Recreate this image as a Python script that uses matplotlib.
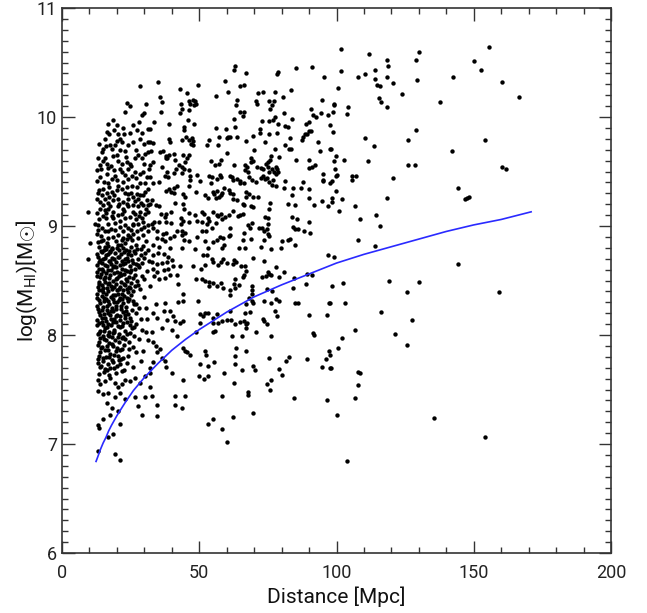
import matplotlib
matplotlib.use("Agg")
import matplotlib.pyplot as plt
from matplotlib.ticker import MultipleLocator

# ---- data (Distance [Mpc], log M_HI) ----
edge_points = [
    (101.6,10.62),(111.8,10.58),(130.1,10.60),(129.1,10.52),(118.4,10.52),(118.9,10.47),(155.7,10.64),
    (150.1,10.51),(152.6,10.43),(101.8,10.42),(107.7,10.37),(110.4,10.39),(114.0,10.43),(113.9,10.35),
    (118.5,10.37),(120.7,10.31),(114.6,10.29),(115.8,10.28),(129.2,10.34),(142.4,10.37),(160.3,10.32),
    (100.5,10.27),(123.9,10.21),(115.6,10.17),(116.2,10.14),(118.5,10.09),(166.6,10.18),(137.6,10.14),
    (99.0,10.12),(99.1,10.11),(104.1,10.09),(98.6,10.05),(103.8,10.03),(97.6,9.93),(98.8,9.86),
    (129.0,9.88),(125.9,9.79),(110.5,9.81),(113.7,9.73),(154.2,9.79),(142.1,9.69),(97.9,9.71),
    (99.8,9.64),(99.0,9.60),(102.7,9.61),(111.4,9.60),(126.0,9.56),(128.5,9.56),(160.4,9.54),
    (161.7,9.52),(99.6,9.52),(100.1,9.47),(99.7,9.46),(105.8,9.46),(107.2,9.46),(105.6,9.42),
    (98.2,9.41),(97.6,9.39),(120.5,9.44),(99.8,9.32),(144.1,9.35),(146.8,9.25),(147.4,9.26),
    (148.4,9.27),(98.2,9.26),(98.2,9.22),(101.9,9.25),(118.5,9.26),(100.9,9.14),(106.7,9.18),
    (114.3,9.10),(108.5,9.06),(116.0,9.00),(107.9,8.87),(113.9,8.82),
    (99.1,8.72),(144.3,8.65),(98.4,8.45),(102.3,8.48),(119.2,8.50),(129.9,8.49),(125.8,8.39),
    (159.2,8.39),(97.6,8.29),(103.0,8.29),(116.2,8.21),(127.6,8.14),(106.7,8.05),(121.3,8.01),
    (101.9,7.97),(100.5,7.88),(125.6,7.91),(97.6,7.82),(97.9,7.70),(107.8,7.66),(108.7,7.65),
    (107.9,7.54),(106.8,7.42),(100.3,7.27),(135.5,7.24),(154.2,7.06),(103.9,6.84),
]

far_points = [
    (63.0,10.47),(62.5,10.43),(66.9,10.40),(78.6,10.41),(78.3,10.39),(85.4,10.45),(91.1,10.46),
    (95.4,10.37),(64.8,10.28),(66.4,10.29),(83.5,10.25),(71.4,10.22),(73.1,10.23),(77.5,10.23),
    (63.6,10.16),(63.5,10.11),(70.6,10.15),(70.9,10.12),(75.3,10.15),(77.1,10.15),(76.5,10.11),
    (80.6,10.18),(94.8,10.16),(75.7,10.07),(64.7,10.05),(66.4,10.05),(65.8,10.01),(80.9,10.04),
    (90.6,10.07),(91.3,10.02),(92.5,10.00),(94.5,10.04),(97.0,10.02),(77.5,10.00),(77.0,9.97),
    (62.5,9.98),(83.8,9.98),(73.0,9.96),(75.5,9.96),(78.6,9.94),(63.1,9.91),(81.3,9.92),(82.4,9.91),
    (89.0,9.94),(89.9,9.95),(90.8,9.87),(72.0,9.89),(72.0,9.85),(63.9,9.82),(61.2,9.82),(67.0,9.78),
    (69.6,9.83),(75.4,9.84),(78.3,9.85),(74.1,9.77),(83.1,9.81),(87.3,9.79),(87.9,9.82),(88.6,9.84),
    (89.4,9.84),(90.1,9.87),(93.3,9.77),(97.5,9.71),(77.6,9.71),(81.1,9.74),(82.8,9.71),(83.3,9.71),
    (70.1,9.70),(94.0,9.69),(69.0,9.62),(69.7,9.60),(68.7,9.59),(76.2,9.64),(75.8,9.61),(74.9,9.59),
    (74.4,9.57),(79.2,9.63),(85.4,9.61),(90.1,9.61),(90.0,9.53),(91.0,9.54),(92.0,9.56),(95.1,9.48),
    (95.0,9.42),(62.5,9.56),(66.6,9.56),(67.4,9.54),(66.8,9.51),(67.9,9.50),(68.2,9.45),(70.9,9.54),
    (72.5,9.53),(73.3,9.52),(75.0,9.54),(76.4,9.52),(78.0,9.54),(78.3,9.52),(75.4,9.50),(77.1,9.50),
    (77.8,9.48),(78.6,9.50),(61.2,9.46),(61.9,9.45),(62.4,9.42),(63.6,9.43),(64.8,9.41),(65.0,9.39),
    (66.3,9.39),(69.3,9.42),(70.6,9.40),(72.5,9.44),(73.3,9.46),(74.0,9.43),(74.8,9.44),(75.3,9.40),
    (77.0,9.42),(76.4,9.38),(77.8,9.37),(81.1,9.41),(80.9,9.35),(84.0,9.35),(87.1,9.35),(87.7,9.40),
    (90.0,9.34),(95.2,9.41),(61.2,9.30),(62.4,9.29),(62.3,9.25),(66.9,9.31),(67.1,9.27),(68.1,9.29),
    (71.3,9.27),(69.7,9.27),(83.8,9.28),(90.0,9.26),(94.7,9.23),(91.8,9.19),(97.0,9.18),(63.6,9.24),
    (65.8,9.20),(66.3,9.19),(68.7,9.18),(69.5,9.17),(75.7,9.21),(75.4,9.16),(82.3,9.20),(85.0,9.19),
    (62.3,9.14),(64.0,9.09),(65.0,9.10),(66.0,9.11),(74.0,9.08),(75.2,9.07),(75.0,9.02),(83.7,9.08),
    (85.7,9.06),(89.9,9.04),(67.6,9.01),(69.2,9.03),(68.6,8.98),(71.7,8.98),(73.0,8.98),(73.6,8.95),
    (74.8,8.97),(75.2,8.93),(75.5,8.91),(73.7,8.87),(84.0,8.99),(84.8,8.97),(86.1,8.97),(88.3,8.95),
    (90.3,8.94),(61.2,8.98),(61.2,8.92),(66.3,8.94),(66.0,8.87),(68.9,8.88),(66.7,8.80),(76.2,8.79),
    (80.0,8.86),(82.3,8.87),(83.1,8.88),(85.0,8.83),(72.4,8.81),
    (64.5,8.80),(69.6,8.71),(79.7,8.80),(62.7,8.69),(63.4,8.67),(62.4,8.65),(65.2,8.63),(66.8,8.63),
    (73.5,8.68),(78.1,8.62),(80.8,8.58),(67.1,8.59),(66.4,8.55),(74.9,8.58),(75.5,8.56),(72.7,8.53),
    (74.3,8.54),(76.0,8.55),(79.1,8.53),(66.0,8.53),(62.9,8.51),(64.6,8.46),(84.4,8.52),(89.1,8.56),
    (91.2,8.55),(89.0,8.47),(96.8,8.73),(69.1,8.45),(69.3,8.41),(69.2,8.38),(62.8,8.47),(63.0,8.43),
    (61.2,8.41),(61.2,8.37),(74.8,8.42),(76.5,8.40),(84.2,8.43),(68.2,8.34),(69.1,8.31),(69.6,8.29),
    (73.6,8.31),(76.2,8.29),(77.8,8.33),(79.2,8.31),(66.9,8.28),(84.9,8.29),(86.1,8.29),(97.4,8.29),
    (61.2,8.22),(66.6,8.20),(68.4,8.21),(77.7,8.22),(78.3,8.17),(89.9,8.18),(96.4,8.18),(61.5,8.14),
    (62.9,8.10),(65.0,8.12),(66.3,8.13),(67.0,8.10),(67.4,8.11),(73.1,8.15),(73.7,8.13),(74.7,8.10),
    (66.9,8.06),(70.8,8.03),(61.9,7.99),(65.5,7.99),(76.2,7.99),(91.6,8.02),(91.9,8.00),(63.3,7.88),
    (66.9,7.85),(63.1,7.81),(63.0,7.73),(75.3,7.79),(82.6,7.80),(81.6,7.76),(89.4,7.78),(97.3,7.85),
    (96.2,7.78),(94.8,7.71),(97.5,7.70),(69.5,7.72),(70.3,7.68),(65.6,7.68),(79.2,7.69),(80.3,7.63),
    (76.0,7.59),(74.8,7.55),(62.7,7.56),(67.9,7.48),(67.6,7.45),(75.8,7.50),(84.6,7.42),(96.4,7.40),
    (69.6,7.28),(62.2,7.25),
]

mid_points = [
    (35.1,10.32),(42.9,10.26),(45.5,10.22),(49.7,10.29),(59.4,10.33),(60.4,10.23),(56.1,10.19),
    (35.6,10.18),(36.3,10.14),(36.0,10.05),(43.4,10.12),(43.1,10.04),(43.7,10.07),(46.3,10.15),
    (47.6,10.16),(46.6,10.12),(48.0,10.11),(48.7,10.12),(48.5,10.15),(46.4,10.06),(33.5,9.95),
    (32.1,9.89),(39.1,9.94),(45.8,9.97),(48.0,9.94),(44.3,9.91),(44.3,9.88),(56.1,9.90),(59.9,9.89),
    (32.1,9.77),(33.3,9.76),(39.1,9.80),(39.3,9.77),(43.8,9.79),(45.3,9.82),(46.3,9.79),(47.2,9.81),
    (47.6,9.78),(46.9,9.75),(47.7,9.74),(53.6,9.79),(52.7,9.74),(57.2,9.82),(60.0,9.81),(60.6,9.82),
    (56.9,9.74),(32.5,9.69),(35.8,9.68),(36.7,9.69),(37.8,9.64),(38.4,9.62),(38.9,9.65),(37.8,9.62),
    (40.8,9.66),(41.1,9.61),(44.2,9.65),(46.3,9.65),(45.4,9.62),(44.7,9.59),(60.1,9.67),(54.3,9.60),
    (55.7,9.56),(57.3,9.57),(57.9,9.61),(33.0,9.59),(32.1,9.56),(36.5,9.54),(38.1,9.50),(37.5,9.46),
    (38.7,9.45),(40.8,9.49),(41.4,9.52),(42.5,9.56),(43.8,9.54),(44.4,9.52),(43.7,9.49),(46.3,9.51),
    (46.7,9.46),(49.3,9.47),(50.3,9.41),(46.5,9.42),(46.4,9.37),(53.6,9.46),(54.6,9.45),(54.4,9.39),
    (56.4,9.43),(57.6,9.47),(58.0,9.45),(32.1,9.45),(33.3,9.39),(35.3,9.40),(37.8,9.32),(38.9,9.34),
    (39.7,9.31),(40.9,9.35),(40.8,9.30),(41.8,9.37),(44.2,9.29),(44.8,9.27),(48.7,9.31),(52.2,9.28),
    (53.3,9.26),(54.9,9.31),(55.5,9.29),(56.4,9.32),(56.0,9.26),(57.2,9.27),(57.9,9.28),(58.3,9.30),
    (59.0,9.35),(60.7,9.33),(32.7,9.24),(32.1,9.20),(34.2,9.19),(35.4,9.18),(36.0,9.11),(37.9,9.11),
    (39.8,9.13),(41.2,9.21),(44.2,9.20),(44.6,9.16),(46.4,9.12),(48.5,9.10),(51.1,9.13),(51.7,9.11),
    (53.3,9.07),(55.1,9.13),(56.4,9.10),(57.0,9.09),(58.0,9.11),(58.2,9.06),(59.5,9.08),(60.8,9.10),
    (33.5,9.04),(32.7,9.02),(33.3,8.98),(35.3,9.04),(37.5,9.08),(38.0,9.04),(39.7,9.03),(43.2,9.07),
    (43.4,9.02),(44.2,9.05),(46.3,9.04),(49.1,9.05),(50.9,9.04),(52.7,9.02),(53.6,9.05),(54.6,8.98),
    (56.1,9.03),(34.7,8.95),(36.9,8.93),(37.8,8.94),(34.5,8.89),(36.3,8.88),(37.4,8.86),(39.3,8.89),
    (40.8,8.91),(41.8,8.95),(43.8,8.95),(44.9,8.94),(43.6,8.92),(44.6,8.87),(46.4,8.86),(49.1,8.90),
    (50.9,8.95),(52.5,8.95),(52.1,8.86),(55.1,8.85),(56.4,8.87),(57.6,8.90),(58.5,8.89),(59.1,8.83),
    (60.7,8.91),(33.3,8.83),(35.4,8.81),(39.3,8.80),(43.6,8.80),(48.4,8.79),(53.3,8.80),(58.2,8.80),
    (33.3,8.73),(35.1,8.75),(37.2,8.74),(38.7,8.72),(32.7,8.67),(34.5,8.65),(36.3,8.66),(38.1,8.67),
    (40.0,8.69),(33.0,8.61),(34.7,8.58),(37.0,8.60),(38.7,8.61),(40.6,8.63),(33.5,8.54),(35.4,8.51),
    (37.5,8.52),(39.3,8.55),(41.8,8.55),(43.0,8.63),(47.6,8.63),(50.6,8.61),(52.1,8.64),(51.3,8.73),
    (52.9,8.73),(54.5,8.70),(55.1,8.67),(56.9,8.64),(57.8,8.67),(58.8,8.70),(60.0,8.66),
    (42.4,8.47),(44.0,8.38),(44.2,8.31),(42.4,8.30),(37.5,8.29),(37.0,8.22),(39.3,8.22),(34.2,8.28),
    (33.0,8.20),(34.5,8.16),(38.1,8.14),(40.6,8.17),(41.2,8.13),(43.0,8.11),(44.2,8.13),(36.3,8.06),
    (32.7,8.03),(40.0,8.05),(41.8,7.99),(48.8,8.51),(50.9,8.51),(52.1,8.50),(53.7,8.49),(53.7,8.45),
    (55.1,8.48),(56.4,8.45),(57.8,8.48),(58.8,8.43),(49.7,8.31),(52.1,8.20),(53.3,8.20),(50.3,8.19),
    (51.5,8.17),(55.1,8.16),(56.4,8.19),(55.1,8.11),(56.9,8.11),(58.2,8.13),(60.0,8.14),(48.8,8.03),
    (50.3,8.11),(55.7,8.04),(55.1,8.03),
    (33.0,7.94),(34.2,7.90),(35.7,7.87),(34.5,7.84),(36.3,7.79),(37.5,7.76),(44.2,7.88),(44.8,7.85),
    (45.7,7.84),(46.6,7.82),(52.1,7.85),(52.5,7.82),(50.3,7.73),(53.3,7.72),(55.5,7.75),(32.1,7.70),
    (33.3,7.75),(37.9,7.71),(40.0,7.65),(44.2,7.59),(50.0,7.62),(51.7,7.60),(53.3,7.62),(59.0,7.65),
    (32.1,7.52),(32.7,7.44),(41.2,7.44),(44.8,7.44),(58.2,7.44),(34.7,7.36),(41.2,7.36),(43.6,7.33),
    (34.5,7.26),(54.9,7.23),(53.3,7.18),(58.2,7.14),(60.0,7.02),
]

near_points = [
    (28.4,10.28),(23.8,10.13),(24.9,10.10),(23.0,10.05),(30.5,10.12),(29.9,10.04),(29.1,10.02),
    (16.9,9.94),(18.7,9.97),(16.4,9.86),(20.5,9.84),(22.7,9.84),(24.8,9.85),(27.2,9.88),(31.4,9.89),
    (17.5,9.74),(18.1,9.71),(19.9,9.78),(21.1,9.80),(21.7,9.77),(19.3,9.74),(23.0,9.69),(26.0,9.77),
    (28.4,9.80),(30.0,9.75),(31.4,9.77),(14.5,9.68),(13.2,9.62),(15.0,9.60),(16.3,9.57),(13.8,9.56),
    (16.9,9.53),(19.9,9.65),(20.5,9.60),(21.7,9.57),(23.6,9.59),(24.8,9.57),(26.6,9.62),(27.8,9.65),
    (29.0,9.62),(30.2,9.66),(31.4,9.68),(21.1,9.52),(21.7,9.50),(24.2,9.52),(26.6,9.50),(28.4,9.48),
    (29.6,9.50),(30.9,9.45),(16.3,9.48),(18.1,9.43),(24.2,9.43),(22.3,9.40),(20.5,9.37),(16.9,9.39),
    (15.0,9.34),(16.3,9.30),(18.1,9.31),(19.9,9.33),(21.7,9.34),(23.6,9.36),(25.4,9.37),(27.2,9.36),
    (28.4,9.39),(30.2,9.39),(31.4,9.34),(9.4,9.13),
    (14.5,9.28),(15.7,9.25),(13.8,9.22),(15.0,9.19),(16.9,9.21),(18.7,9.24),(20.5,9.25),(22.3,9.22),
    (24.2,9.25),(26.0,9.27),(27.8,9.25),(29.6,9.28),(30.9,9.24),(12.0,9.02),(13.2,9.01),(14.5,8.98),
    (15.7,8.95),(16.9,9.02),(18.7,9.07),(20.5,9.10),(21.7,9.11),(23.0,9.07),(24.8,9.08),(26.6,9.11),
    (28.4,9.13),(30.2,9.11),(31.4,9.13),(16.9,9.16),(18.7,9.13),(20.5,9.18),(22.3,9.16),(24.2,9.18),
    (26.0,9.19),(27.8,9.18),(29.6,9.19),(31.4,9.19),(10.2,8.84),(15.0,8.87),(16.9,8.89),(18.7,8.90),
    (20.5,8.92),(22.3,8.95),(24.2,8.98),(26.0,9.01),(27.8,9.02),(29.6,9.04),(31.4,9.01),(15.7,8.81),
    (18.1,8.80),(20.5,8.83),(23.0,8.84),(25.4,8.87),(27.8,8.89),(29.6,8.92),(31.4,8.95),(22.3,8.89),
    (24.2,8.92),(26.0,8.93),(9.6,8.70),
    (14.1,9.52),(17.8,9.55),(25.6,9.46),(12.9,9.41),(19.2,9.46),(27.5,9.29),(13.6,9.33),(17.2,9.36),
    (23.0,9.30),(30.1,9.31),(12.6,9.12),(14.9,9.09),(19.4,9.03),(22.7,9.14),(25.7,9.02),(29.0,9.07),
    (13.4,9.06),(16.2,9.12),(20.9,9.20),(27.1,9.06),(12.8,8.93),(17.9,8.97),(21.2,8.99),(25.1,8.96),
    (28.9,8.97),(14.2,8.91),(19.6,8.86),(23.7,8.88),(26.9,8.83),(30.6,8.86),(13.1,8.85),(16.3,8.84),
    (21.9,8.87),(17.0,9.27),(23.9,9.29),(28.7,9.21),(15.5,9.15),(25.8,9.13),
    (13.2,7.59),(13.8,7.55),(15.7,7.58),(17.5,7.61),(19.3,7.56),(20.5,7.52),(21.7,7.55),(23.0,7.59),
    (24.8,7.58),(26.6,7.61),(28.4,7.56),(30.2,7.62),(32.1,7.65),(13.2,7.49),(15.0,7.46),(16.9,7.47),
    (19.3,7.43),(21.1,7.47),(23.0,7.41),(26.6,7.43),(30.2,7.43),(16.3,7.38),(18.1,7.33),(17.5,7.27),
    (27.8,7.35),(29.0,7.27),(20.5,7.30),(15.0,7.23),(13.2,7.17),(13.5,7.15),(21.1,7.18),(18.7,7.09),
    (16.9,7.06),(13.2,6.94),(19.3,6.91),(21.1,6.85),
]

upper_near_points = [
    (13.4,9.75),(15.8,9.80),(22.3,9.90),(25.7,9.93),(28.0,9.95),(19.0,9.88),(14.9,9.71),(26.9,9.70),
    (24.1,9.74),(29.3,9.85),(13.9,9.45),(15.4,9.40),(18.8,9.51),(20.1,9.42),(22.9,9.47),(25.0,9.55),
    (27.0,9.44),(29.8,9.57),(31.8,9.52),(23.4,9.63),(13.1,9.30),(14.0,9.16),(16.0,9.07),(17.6,9.18),
    (19.0,9.28),(21.0,9.05),(23.5,9.20),(25.3,9.30),(26.6,9.23),(28.5,9.28),(30.7,9.16),(12.7,9.25),
    (14.3,8.86),(16.8,8.95),(19.3,8.96),(22.8,9.01),(24.9,8.90),(27.3,8.95),(30.0,8.99),(13.2,8.96),
    (18.2,9.09),(28.0,9.09),(15.6,9.62),(18.5,9.64),(12.9,9.51),(21.3,9.70),(17.0,9.84),(20.0,9.93),
    (16.2,9.73),
]

dense_points = [
    (13.5,8.81),(15.2,8.78),(16.8,8.82),(18.1,8.79),(19.9,8.80),(21.4,8.83),(23.2,8.78),(25.0,8.81),(27.3,8.79),(29.5,8.82),(31.2,8.78),
    (12.9,8.74),(14.4,8.76),(16.0,8.73),(17.6,8.77),(19.2,8.75),(20.7,8.72),(22.5,8.76),(24.1,8.74),(26.2,8.77),(28.6,8.73),(30.4,8.75),
    (13.8,8.69),(15.5,8.71),(17.2,8.68),(18.9,8.70),(20.3,8.72),(22.0,8.68),(23.7,8.71),(25.6,8.69),(27.8,8.70),(31.7,8.68),
    (12.7,8.64),(14.6,8.66),(16.3,8.63),(18.0,8.65),(19.6,8.67),(21.2,8.64),(23.0,8.66),(24.8,8.63),(26.9,8.65),(29.2,8.66),
    (13.3,8.61),(15.0,8.59),(16.9,8.60),(18.6,8.62),(20.1,8.58),(21.9,8.61),(23.6,8.59),(25.3,8.60),(28.0,8.62),(30.8,8.59),
    (12.8,8.54),(14.2,8.56),(15.8,8.53),(17.4,8.55),(19.0,8.57),(20.8,8.54),(22.6,8.56),(24.4,8.53),(26.5,8.55),
    (13.6,8.49),(15.3,8.51),(17.0,8.48),(18.5,8.50),(20.0,8.52),(21.6,8.49),(23.3,8.51),(25.2,8.48),(27.4,8.50),(30.0,8.51),
    (13.0,8.44),(14.7,8.46),(16.4,8.43),(17.9,8.45),(19.5,8.47),(21.2,8.44),(22.9,8.46),(24.6,8.43),(26.7,8.45),
    (13.4,8.41),(15.1,8.39),(16.7,8.40),(18.3,8.42),(20.4,8.38),(22.2,8.41),(23.9,8.39),(25.9,8.40),(28.4,8.42),
    (12.9,8.34),(14.5,8.36),(16.1,8.33),(17.7,8.35),(19.3,8.37),(21.0,8.34),(22.7,8.36),(24.5,8.33),(29.8,8.35),
    (13.7,8.29),(15.4,8.31),(17.1,8.28),(18.8,8.30),(20.6,8.32),(22.3,8.29),(24.0,8.31),(26.3,8.28),
    (13.1,8.24),(14.8,8.26),(16.5,8.23),(18.2,8.25),(19.8,8.27),(21.5,8.24),(23.4,8.26),(25.5,8.23),(27.9,8.25),
    (13.5,8.21),(15.2,8.19),(16.9,8.20),(18.7,8.22),(20.2,8.18),(22.1,8.21),(24.2,8.19),(26.8,8.20),
    (12.8,8.14),(14.4,8.16),(16.2,8.13),(17.8,8.15),(19.6,8.17),(21.3,8.14),(23.1,8.16),(25.1,8.13),(28.8,8.15),
    (13.3,8.11),(15.0,8.09),(16.6,8.10),(18.4,8.12),(20.3,8.08),(22.4,8.11),(24.7,8.09),(27.1,8.10),
    (13.9,8.04),(15.6,8.06),(17.3,8.03),(19.1,8.05),(21.0,8.07),(22.8,8.04),(25.4,8.06),(30.6,8.03),
    (13.2,8.01),(14.9,7.99),(16.7,8.00),(18.5,8.02),(20.5,7.98),(23.5,8.01),(26.4,7.99),
    (13.6,7.94),(15.3,7.96),(17.2,7.93),(19.4,7.95),(21.7,7.97),(24.3,7.94),(28.2,7.96),
    (13.0,7.91),(14.7,7.89),(16.4,7.90),(18.2,7.92),(20.0,7.88),(22.6,7.91),(25.7,7.89),
    (13.8,7.84),(15.7,7.86),(17.6,7.83),(19.7,7.85),(21.8,7.87),(27.0,7.84),
    (13.4,7.81),(15.1,7.79),(17.0,7.80),(19.0,7.82),(21.4,7.78),(24.0,7.81),
    (13.1,7.74),(14.8,7.76),(16.6,7.73),(18.6,7.75),(20.9,7.77),(23.8,7.74),(28.6,7.76),
    (13.7,7.71),(15.5,7.69),(17.5,7.70),(19.9,7.72),(22.5,7.68),(26.0,7.71),
    (13.3,7.64),(15.2,7.66),(17.3,7.63),(19.5,7.65),(21.9,7.67),
    (30.5,8.25),(31.5,7.95),(29.0,8.05),(32.0,8.45),(31.0,8.15),(29.5,7.85),
]

dense_points_2 = [
    (14.3,8.77),(16.1,8.79),(17.5,8.76),(20.6,8.78),(22.4,8.80),(24.3,8.77),(26.6,8.75),(28.9,8.79),
    (13.1,8.72),(14.9,8.70),(16.6,8.74),(18.2,8.71),(21.5,8.74),(23.1,8.70),(25.3,8.73),(29.9,8.71),
    (13.5,8.67),(15.7,8.64),(17.4,8.68),(19.0,8.63),(22.1,8.65),(24.0,8.68),(25.9,8.66),(27.6,8.64),
    (12.9,8.58),(14.4,8.61),(16.2,8.57),(17.8,8.60),(19.5,8.62),(21.1,8.57),(22.8,8.60),(24.6,8.58),(26.6,8.61),
    (14.0,8.53),(15.6,8.49),(17.3,8.52),(19.8,8.51),(21.4,8.55),(23.8,8.50),(26.0,8.52),(29.0,8.54),
    (13.3,8.47),(14.9,8.43),(16.8,8.47),(18.9,8.44),(20.6,8.42),(22.5,8.47),(24.4,8.44),(27.8,8.46),
    (12.8,8.38),(14.6,8.41),(16.2,8.38),(18.4,8.37),(20.0,8.41),(21.8,8.38),(23.5,8.42),(25.2,8.37),
    (13.5,8.32),(15.3,8.34),(16.7,8.31),(18.4,8.33),(20.1,8.30),(21.8,8.33),(23.6,8.34),(25.8,8.31),
    (12.8,8.27),(14.5,8.23),(16.3,8.27),(17.9,8.22),(19.6,8.24),(21.6,8.27),(23.2,8.22),(27.0,8.28),
    (13.7,8.18),(15.5,8.16),(17.4,8.18),(19.1,8.15),(21.0,8.17),(22.8,8.18),(24.9,8.16),
    (12.9,8.09),(14.6,8.12),(16.3,8.07),(18.0,8.09),(19.8,8.12),(21.7,8.08),(23.8,8.12),(26.2,8.07),
    (13.5,8.02),(15.2,8.04),(17.1,7.99),(18.9,8.03),(20.9,8.01),(22.3,7.98),(24.6,8.02),
    (13.8,7.97),(16.1,7.95),(18.1,7.98),(20.6,7.94),(23.0,7.96),
    (14.2,7.88),(16.7,7.86),(18.7,7.90),(21.1,7.86),(24.5,7.87),
    (13.2,7.78),(15.9,7.80),(18.1,7.77),(20.3,7.81),(22.4,7.79),
    (14.3,7.72),(16.4,7.68),(18.8,7.70),(21.2,7.73),
]

# detection-limit curve
curve_dist = [12.4, 13, 14, 15, 16, 17, 18, 20, 23, 26, 30, 35, 40, 45, 50, 60, 70, 80, 90,
              100, 110, 120, 130, 140, 150, 160, 170.9]
curve_logm = [6.84, 6.88, 6.95, 7.01, 7.06, 7.12, 7.17, 7.26, 7.38, 7.49, 7.61, 7.74, 7.86,
              7.96, 8.05, 8.21, 8.35, 8.46, 8.56, 8.66, 8.74, 8.81, 8.88, 8.95, 9.01, 9.06, 9.13]

x_ticks = [0, 50, 100, 150, 200]
y_ticks = [6, 7, 8, 9, 10, 11]

# ---- plotting ----
plt.rcParams['font.family'] = ['Roboto', 'DejaVu Sans']
plt.rcParams['mathtext.fontset'] = 'custom'
plt.rcParams['mathtext.rm'] = 'Roboto'
plt.rcParams['mathtext.it'] = 'Roboto'

fig = plt.figure(figsize=(6.47, 6.13), dpi=100)
# axes box: left 62 px, right 611 px, top 8 px, bottom 553 px
ax = fig.add_axes([62/647, 60/613, 549/647, 545/613])

all_pts = (edge_points + far_points + mid_points + near_points + upper_near_points
           + dense_points + dense_points_2)
xs = [p[0] for p in all_pts]
ys = [p[1] for p in all_pts]
ax.scatter(xs, ys, s=10, c='black', marker='o', linewidths=0)

ax.plot(curve_dist, curve_logm, color='#2a2aff', lw=1.2)

ax.set_xlim(0, 200)
ax.set_ylim(6, 11)
ax.set_xticks(x_ticks)
ax.set_yticks(y_ticks)
ax.xaxis.set_minor_locator(MultipleLocator(10))
ax.yaxis.set_minor_locator(MultipleLocator(0.1))
ax.tick_params(which='both', direction='in', top=True, right=True,
               color='#333333', width=1.0, labelsize=13, labelcolor='#222222')
ax.tick_params(which='major', length=9)
ax.tick_params(which='minor', length=4.5)
ax.tick_params(axis='x', which='major', pad=8)
for s in ax.spines.values():
    s.set_color('#333333')
    s.set_linewidth(1.2)

ax.set_xlabel('Distance [Mpc]', fontsize=15, color='#111111', labelpad=3)
ax.set_ylabel(r'log(M$_{\mathrm{HI}}$)[M$\odot$]', fontsize=15, color='#111111')
ax.yaxis.set_label_coords(-0.040, 0.5)

fig.savefig('out.png', dpi=100)
